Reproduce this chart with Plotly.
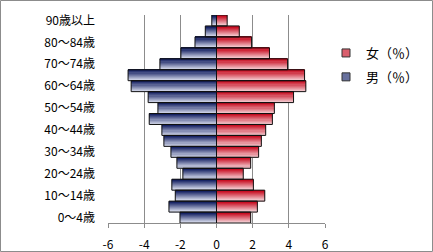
import plotly.graph_objects as go

categories = ["0～4歳", "5～9歳", "10～14歳", "15～19歳", "20～24歳", "25～29歳",
              "30～34歳", "35～39歳", "40～44歳", "45～49歳", "50～54歳", "55～59歳",
              "60～64歳", "65～69歳", "70～74歳", "75～79歳", "80～84歳", "85～89歳",
              "90歳以上"]
male = [-2.02, -2.63, -2.28, -2.47, -1.86, -2.19, -2.52, -2.91, -3.02, -3.72,
        -3.24, -3.78, -4.72, -4.89, -3.13, -1.97, -1.19, -0.62, -0.26]
female = [1.89, 2.26, 2.67, 2.04, 1.48, 1.89, 2.33, 2.48, 2.72, 3.09,
          3.20, 4.26, 4.94, 4.87, 3.93, 2.93, 1.94, 1.26, 0.59]
x_ticks = [-6, -4, -2, 0, 2, 4, 6]
label_names = {"female": "女（％）", "male": "男（％）"}

W, H = 433, 252
ML, MR, MT, MB = 108, 108, 15, 29
PW, PH = W - ML - MR, H - MT - MB
FONT = "Noto Sans CJK JP, Noto Sans, sans-serif"

def lerp(c1, c2, t):
    return "rgb(%d,%d,%d)" % tuple(round(a + (b - a) * t) for a, b in zip(c1, c2))

# top (dark) -> bottom (light)
grad = {
    "male": ((24, 36, 100), (222, 226, 242)),
    "female": ((200, 16, 36), (246, 214, 218)),
}
N = 10
fig = go.Figure()
for key, vals in (("male", male), ("female", female)):
    dark, light = grad[key]
    for i in range(N):
        t = i / (N - 1)  # i=0 bottom slice
        fig.add_trace(go.Bar(
            x=vals, y=categories, orientation="h",
            width=1.0 / N, offset=-0.5 + i / N,
            marker=dict(color=lerp(light, dark, t), line=dict(width=0)),
            showlegend=False, hoverinfo="skip"))
    fig.add_trace(go.Bar(
        x=vals, y=categories, orientation="h", width=1.0,
        marker=dict(color="rgba(0,0,0,0)", line=dict(color="#111", width=1)),
        showlegend=False, hoverinfo="skip"))

for key in ("female", "male"):
    dark, light = grad[key]
    fig.add_trace(go.Scatter(
        x=[None], y=[None], mode="markers", name=label_names[key],
        legendgroup=key,
        marker=dict(symbol="square", size=8, color=lerp(light, dark, 0.6),
                    line=dict(color="#333", width=1))))

fig.update_layout(
    width=W, height=H, barmode="overlay",
    margin=dict(l=ML, r=MR, t=MT, b=MB, pad=0, autoexpand=False),
    paper_bgcolor="white", plot_bgcolor="white",
    font=dict(family=FONT, size=12, color="#000"),
    showlegend=True,
    legend=dict(xref="container", yref="container",
                x=326 / W, y=1 - 38 / H, xanchor="left", yanchor="top",
                traceorder="grouped", tracegroupgap=4,
                font=dict(family=FONT, size=13, color="#000"),
                bgcolor="rgba(0,0,0,0)", itemwidth=30),
    xaxis=dict(range=[-6, 6], tickvals=x_ticks, ticktext=[str(v) for v in x_ticks],
               showgrid=True, gridcolor="#8c8c8c", gridwidth=1,
               zeroline=True, zerolinecolor="#555", zerolinewidth=1,
               showline=True, linecolor="#8c8c8c", linewidth=1,
               ticks="outside", ticklen=4, tickcolor="#8c8c8c",
               ticklabelstandoff=7,
               tickfont=dict(size=12), fixedrange=True),
    yaxis=dict(type="category", categoryorder="array", categoryarray=categories,
               range=[-0.5, len(categories) - 0.5],
               tickvals=categories[::2], ticktext=categories[::2],
               showgrid=False, zeroline=False, showline=False, ticks="",
               ticklabelstandoff=12, tickfont=dict(size=12), fixedrange=True),
    shapes=[dict(type="rect", xref="paper", yref="paper",
                 x0=(0.5 - ML) / PW, x1=(W - 0.5 - ML) / PW,
                 y0=(H - MB - (H - 0.5)) / PH, y1=(H - MB - 0.5) / PH,
                 line=dict(color="#8c8c8c", width=1), layer="above")],
)

fig.write_html("out.html")
